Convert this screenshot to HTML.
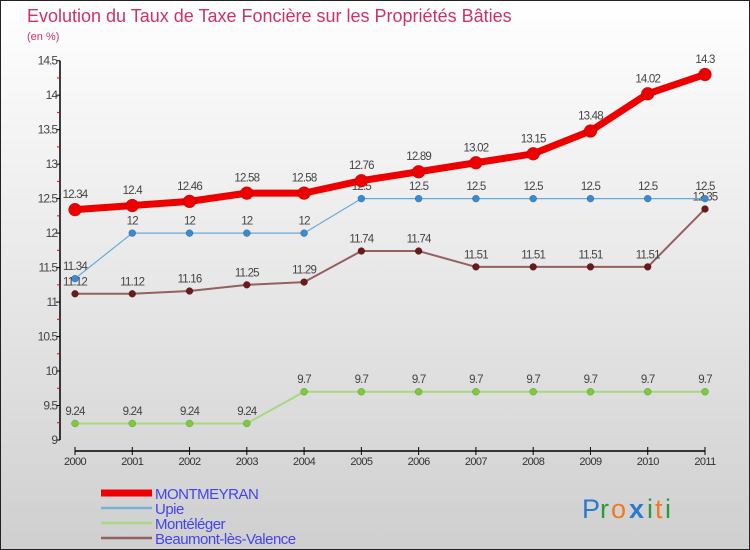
<!DOCTYPE html>
<html><head><meta charset="utf-8"><style>
body{margin:0}
#c{width:750px;height:550px;position:relative;background:linear-gradient(#ffffff 0%,#e8e8e8 50%,#cfcfcf 100%);font-family:"Liberation Sans",sans-serif;box-sizing:border-box;border:1px solid #222;overflow:hidden}
</style></head><body>
<div id="c">
<svg id="s" width="750" height="550" style="position:absolute;left:-1px;top:-1px"></svg>
</div>
<script>
const years=["2000","2001","2002","2003","2004","2005","2006","2007","2008","2009","2010","2011"];
const montmeyran=[12.34,12.4,12.46,12.58,12.58,12.76,12.89,13.02,13.15,13.48,14.02,14.3];
const upie=[11.34,12,12,12,12,12.5,12.5,12.5,12.5,12.5,12.5,12.5];
const monteleger=[9.24,9.24,9.24,9.24,9.7,9.7,9.7,9.7,9.7,9.7,9.7,9.7];
const beaumont=[11.12,11.12,11.16,11.25,11.29,11.74,11.74,11.51,11.51,11.51,11.51,12.35];
const yTicks=[9,9.5,10,10.5,11,11.5,12,12.5,13,13.5,14,14.5];
const yLabels=["9","9.5","10","10.5","11","11.5","12","12.5","13","13.5","14","14.5"];
const svg=document.getElementById('s');const NS="http://www.w3.org/2000/svg";
const X=i=>75+i*(630/11);const Y=v=>440-(v-9)*(379.3/5.5);
function el(t,a,p){const e=document.createElementNS(NS,t);for(const k in a)e.setAttribute(k,a[k]);(p||svg).appendChild(e);return e;}
function txt(x,y,s,a){const e=el('text',Object.assign({x:x,y:y},a));e.textContent=s;return e;}
let t=txt(27,22,"Evolution du Taux de Taxe Foncière sur les Propriétés Bâties",{fill:"#d0306a","font-size":"18"});

t=txt(27,40,"(en %)",{fill:"#d0306a","font-size":"11"});

let ax=el('line',{x1:60,y1:Y(14.5),x2:60,y2:440,stroke:"#000","stroke-width":1.5});

yTicks.forEach((v,i)=>{el('line',{x1:56,y1:Y(v),x2:60,y2:Y(v),stroke:"#000"});
 if(i<yTicks.length-1)el('line',{x1:57,y1:Y(v+0.25),x2:60,y2:Y(v+0.25),stroke:"#e00"});
 const l=txt(57,Y(v)+4,yLabels[i],{"text-anchor":"end","font-size":"12",fill:"#444","letter-spacing":"-1"});
 });
let xa=el('line',{x1:X(0),y1:451,x2:X(11),y2:451,stroke:"#000","stroke-width":1.5});

years.forEach((y,i)=>{el('line',{x1:X(i),y1:447,x2:X(i),y2:455,stroke:"#000"});
 const l=txt(X(i),465,y,{"text-anchor":"middle","font-size":"11",fill:"#333","letter-spacing":"-0.6"});
 });
function series(data,name,color,w,r,fill){
 const g=el('g',{});
 el('polyline',{points:data.map((v,i)=>X(i)+","+Y(v)).join(" "),fill:"none",stroke:color,"stroke-width":w,"stroke-linejoin":"round"},g);
 data.forEach((v,i)=>{const c=el('circle',{cx:X(i),cy:Y(v),r:r,fill:fill,stroke:"rgba(0,0,0,0.3)","stroke-width":0.5},g);
  
  const l=txt(X(i),Y(v)-(r+5),String(v),{"text-anchor":"middle","font-size":"11.5",fill:"#444","letter-spacing":"-0.8"},g);
  });
}
series(monteleger,"monteleger","#a8d880",2,3.5,"#7ccc3a");
series(beaumont,"beaumont","#946060",2,3.5,"#6a1a1a");
series(upie,"upie","#6aaad8",1.2,3.5,"#3a8ad0");
series(montmeyran,"montmeyran","#ee0000",7,6.5,"#ee0000");
const leg=[["MONTMEYRAN","#ee0000",7],["Upie","#7ab0d8",2.5],["Montéléger","#a8d880",2.5],["Beaumont-lès-Valence","#946060",2.5]];
leg.forEach((l,i)=>{const y=493+i*15;const g=el('g',{});
 el('line',{x1:101,y1:y,x2:152,y2:y,stroke:l[1],"stroke-width":l[2]},g);
 txt(155,y+6,l[0],{"font-size":"15",fill:"#4444ee","letter-spacing":"-0.5"},g);});
const lg=el('g',{});
[["P","#2a7ad0"],["r","#2a9a3a"],["o","#f07a20"],["x","#2a7ad0"],["i","#2a9a3a"],["t","#f07a20"],["i","#2a9a3a"]].forEach((c,i)=>{
 txt(582+[0,18,29,47,65,73,83][i],518,c[0],{"font-size":"27","font-weight":i==3?"bold":"normal",fill:c[1]},lg);});
</script>
</body></html>
